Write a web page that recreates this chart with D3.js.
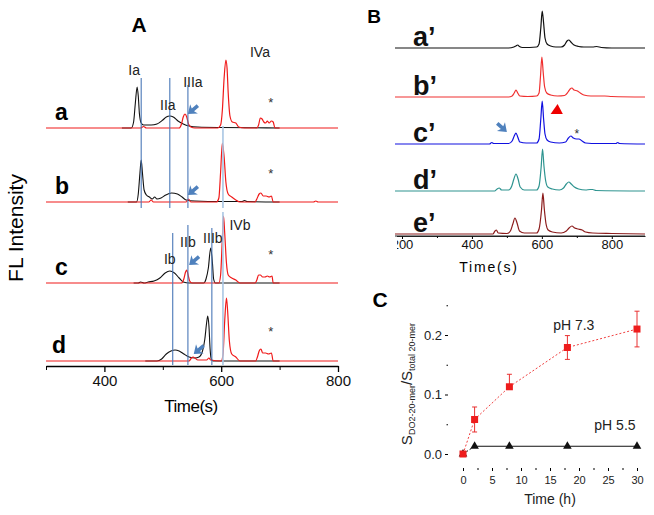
<!DOCTYPE html>
<html><head><meta charset="utf-8">
<script src="https://cdn.jsdelivr.net/npm/d3@7"></script>
<style>
body{margin:0;background:#fff}
svg{display:block}
text{font-family:"Liberation Sans",Arial,sans-serif}
</style>
</head><body>
<svg id="fig" width="654" height="515"></svg>
<script>
// ---------------- DATA ----------------
// Panel A: electropherograms, [time (s), intensity (a.u.)]
const aBlack = [[430,0],[446,0],[450,6],[453,25],[456,41],[458,32],[460,14],[463,5],[467,3],[480,3],[490,4],[500,8],[506,11],[512,12],[518,11],[526,7],[535,4],[545,2],[560,1],[600,0.5],[650,0.3],[700,0]];
const aRed = [[300,0],[462,0],[467,1.5],[472,0],[528,0],[532,4],[535,11],[538,14],[541,11],[544,4],[548,1],[555,0],[594,0],[599,3],[602,18],[605,50],[608,68],[610,60],[612,35],[615,12],[619,6],[625,5],[630,1],[640,0],[661,0],[664,3],[667,10],[670,9],[673,6],[676,5],[679,7],[682,5],[686,7],[689,6],[692,0],[800,0]];
const bBlack = [[440,0],[455,0],[458,8],[461,30],[463,42],[465,30],[468,12],[472,7],[477,5],[482,3],[486,5],[490,3],[497,4],[505,7],[515,9],[525,8],[533,5],[540,2],[555,1],[600,0.5],[636,0.5],[640,1.5],[644,0.5],[700,0]];
const bRed = [[300,0],[476,0],[480,2],[484,0],[540,0],[544,3],[548,0],[592,0],[596,4],[599,30],[602,59],[605,45],[608,20],[612,8],[618,5],[625,2],[632,0],[658,0],[661,3],[665,8],[668,9],[672,6],[677,6],[682,5],[686,6],[689,0],[758,0],[762,1],[766,0],[800,0]];
const cBlack = [[450,0],[458,0],[462,1],[468,0],[475,1],[485,2],[495,5],[504,10],[512,12],[520,10],[528,5],[535,1],[545,0],[570,0],[574,4],[578,15],[582,35],[585,20],[587,4],[590,0],[700,0]];
const cRed = [[300,0],[532,0],[536,4],[539,11],[541,13],[543,9],[546,2],[550,0],[596,0],[599,8],[602,45],[604,67],[606,50],[609,20],[612,8],[618,5],[625,3],[632,0],[658,0],[661,3],[664,8],[667,8],[671,6],[675,6],[679,7],[683,6],[687,7],[689,0],[800,0]];
const dBlack = [[470,0],[490,0],[498,2],[506,7],[514,10],[521,11],[528,10],[536,7],[545,4],[555,3],[562,4],[568,10],[572,22],[575,38],[577,45],[579,35],[581,12],[583,2],[586,0],[700,0]];
const dRed = [[300,0],[545,0],[549,3],[552,4],[555,3],[560,1],[575,1],[579,3],[582,1],[600,0],[603,6],[606,40],[609,63],[611,50],[614,20],[618,7],[625,4],[632,0],[659,0],[662,4],[665,10],[668,12],[671,8],[676,8],[681,7],[686,8],[689,0],[800,0]];
const rowLabelsA = ["a","b","c","d"];
const peakLabelsTop = ["Ia","IIa","IIIa","IVa"];
const peakTimesTop = [463,512,543,603];
const peakLabelsBottom = ["Ib","IIb","IIIb","IVb"];
const peakTimesBottom = [517,543,584,603];
const ticksA = [400,600,800];

// Panel B: electropherograms a'-e'
const aPrime = [[180,0],[505,0],[520,1],[526,2],[531,3],[536,1.5],[545,0.5],[585,1],[592,4],[597,20],[601,37],[605,25],[609,10],[615,4],[625,2],[640,1],[655,1],[665,3],[672,7],[677,8],[683,6],[692,3],[705,1.5],[720,1],[745,1],[757,1.5],[770,0.5],[800,0],[895,0]];
const bPrime = [[180,0],[505,0],[515,1],[521,4],[526,7],[531,4],[537,1],[560,0.5],[585,1],[592,4],[596,20],[600,40],[604,24],[608,10],[614,4],[625,2],[645,1],[665,1.5],[675,5],[681,8],[686,9],[692,7],[702,6],[710,4],[720,2],[740,1],[780,1],[800,0.5],[895,0]];
const cPrime = [[180,0],[450,0],[457,1.5],[462,0.5],[505,0.5],[515,3],[521,8],[526,11],[531,7],[537,2],[555,1],[585,1],[592,5],[597,25],[601,43],[605,25],[609,10],[615,4],[625,2],[650,1],[668,2],[676,6],[683,8],[690,6],[699,5],[706,5],[715,3],[725,1],[760,0.5],[812,0.5],[817,1.5],[822,0.5],[895,0]];
const dPrime = [[180,0],[465,0],[472,2],[478,3],[485,1],[505,1],[514,5],[520,12],[526,17],[532,12],[538,4],[550,1],[585,1],[592,5],[598,24],[602,42],[606,25],[611,10],[617,4],[630,2],[650,1],[662,3],[670,7],[677,9],[684,7],[693,4],[705,2],[725,1],[738,1.5],[745,1.5],[755,0.5],[895,0]];
const ePrime = [[180,0],[460,0],[466,3],[470,4],[475,1],[500,0.5],[510,3],[517,10],[523,16],[529,11],[536,3],[550,1],[585,1],[592,5],[599,24],[603,41],[607,25],[612,10],[618,4],[630,2],[655,1],[670,3],[678,6],[686,8],[694,6],[704,5],[715,4],[725,2],[745,1],[800,0.5],[895,0]];
const rowLabelsB = ["a\u2019","b\u2019","c\u2019","d\u2019","e\u2019"];
const ticksB = [200,400,600,800];

// Panel C: kinetics
const timeH = [0,2,8,18,30];
const ph73 = [0,0.058,0.113,0.179,0.21];
const ph73ErrUp = [0,0.021,0.021,0.02,0.03];
const ph73ErrDown = [0,0.021,0,0.02,0.03];
const ph55 = [0,0.013,0.013,0.013,0.013];
const ticksCx = [0,5,10,15,20,25,30];
const ticksCy = [0,0.1,0.2];

// ---------------- DRAWING ----------------
const svg = d3.select("#fig");
const RED = "#f01a1a", BLUE = "#4a78b8", LIGHT = "#a9c6e3";

function arrow(g, x, y, angle){
  g.append("path")
    .attr("d","M0,0 L-8,-6 L-6.5,-1.8 L-13,-1.8 L-13,1.8 L-6.5,1.8 L-8,6 Z")
    .attr("transform",`translate(${x},${y}) rotate(${angle})`)
    .attr("fill","#4f81bd");
}

// ===== Panel A =====
const xA = d3.scaleLinear().domain([300,800]).range([46,338]);
const yA = d3.scaleLinear().domain([0,100]).range([0,-100]);
const baseA = d3.scaleOrdinal().domain(rowLabelsA).range([128,202,283,361]);
const lineA = d3.line().x(d=>xA(d[0])).y(d=>yA(d[1])).curve(d3.curveMonotoneX);
const blackA = [aBlack,bBlack,cBlack,dBlack];
const redA = [aRed,bRed,cRed,dRed];
const arrowA = [[543,14],[543,7],[545,18],[553,7]];
const starA = [27,30,30,31];
const rowLabelX = [55,55,55,52];

rowLabelsA.forEach((r,i)=>{
  const g = svg.append("g").attr("transform",`translate(0,${baseA(r)})`);
  g.append("path").attr("d",lineA(blackA[i])).attr("fill","none").attr("stroke","#111").attr("stroke-width",1.1);
  g.append("path").attr("d",lineA(redA[i])).attr("fill","none").attr("stroke",RED).attr("stroke-width",1.2);
  g.append("text").attr("x",rowLabelX[i]).attr("y",-8).attr("font-size",23).attr("font-weight","bold").text(r);
  g.append("text").attr("x",xA(685)).attr("y",yA(starA[i])+6).attr("text-anchor","middle").attr("font-size",13).attr("fill","#333").text("*");
});

// marker lines
const topLines = svg.append("g");
const topY1 = [78,78,85,126];
peakTimesTop.forEach((t,i)=>{
  topLines.append("line").attr("x1",xA(t)).attr("x2",xA(t)).attr("y1",topY1[i]).attr("y2",208)
    .attr("stroke", i===3 ? LIGHT : BLUE).attr("stroke-width", i===3 ? 1.6 : 1.1);
});
const botY1 = [233,225,228,212];
peakTimesBottom.forEach((t,i)=>{
  topLines.append("line").attr("x1",xA(t)).attr("x2",xA(t)).attr("y1",botY1[i]).attr("y2",365)
    .attr("stroke", i===3 ? LIGHT : BLUE).attr("stroke-width", i===3 ? 1.6 : 1.1);
});
// peak labels
const topLabPos = [[-7,75],[-2,110],[5,87],[37,57]];
peakLabelsTop.forEach((l,i)=>{
  svg.append("text").attr("x",xA(peakTimesTop[i])+topLabPos[i][0]).attr("y",topLabPos[i][1])
    .attr("text-anchor","middle").attr("font-size",14).attr("fill","#222").text(l);
});
const botLabPos = [[-3,264],[0,247],[1,243],[17,230]];
peakLabelsBottom.forEach((l,i)=>{
  svg.append("text").attr("x",xA(peakTimesBottom[i])+botLabPos[i][0]).attr("y",botLabPos[i][1])
    .attr("text-anchor","middle").attr("font-size",14).attr("fill","#222").text(l);
});
// arrows
rowLabelsA.forEach((r,i)=>{
  arrow(svg, xA(arrowA[i][0]), baseA(r)+yA(arrowA[i][1]), 140);
});

// axis A
const axA = svg.append("g").attr("transform","translate(0,366)")
  .call(d3.axisBottom(xA).tickValues(ticksA).tickSize(6).tickSizeOuter(0).tickPadding(3));
axA.select(".domain").attr("stroke","#000").attr("stroke-width",1.5);
axA.selectAll(".tick line").attr("stroke","#000").attr("stroke-width",1.3);
axA.selectAll(".tick text").attr("font-size",15).attr("font-family","Liberation Sans, Arial, sans-serif").attr("fill","#111");
svg.append("g").attr("transform","translate(0,366)")
  .call(d3.axisBottom(xA).tickValues([300,500,700]).tickSize(4).tickFormat(""))
  .call(g=>g.select(".domain").remove());
svg.append("text").attr("x",191).attr("y",412).attr("text-anchor","middle").attr("font-size",17).attr("letter-spacing",-0.5).text("Time(s)");
svg.append("text").attr("transform","translate(23,228) rotate(-90)").attr("text-anchor","middle").attr("font-size",21).text("FL Intensity");
svg.append("text").attr("x",139).attr("y",32).attr("text-anchor","middle").attr("font-size",21).attr("font-weight","bold").text("A");

// ===== Panel B =====
const xB = d3.scaleLinear().domain([180,895]).range([395,645]);
const yB = d3.scaleLinear().domain([0,100]).range([0,-100]);
const baseB = d3.scaleOrdinal().domain(rowLabelsB).range([48,97,144,191,234]);
const colorB = d3.scaleOrdinal().domain(rowLabelsB).range(["#111111","#f03030","#1010e0","#2e9490","#8c1c1c"]);
const tracesB = [aPrime,bPrime,cPrime,dPrime,ePrime];
const lineB = d3.line().x(d=>xB(d[0])).y(d=>yB(d[1])).curve(d3.curveMonotoneX);
rowLabelsB.forEach((r,i)=>{
  const g = svg.append("g").attr("transform",`translate(0,${baseB(r)})`);
  g.append("path").attr("d",lineB(tracesB[i])).attr("fill","none").attr("stroke",colorB(r)).attr("stroke-width",1.2);
  g.append("text").attr("x",413).attr("y",-2).attr("font-family","Lato, 'Open Sans', sans-serif").attr("font-weight","bold").attr("font-size",27).attr("fill","#111").text(r);
});
// c' annotations
const cBase = baseB(rowLabelsB[2]);
arrow(svg, xB(500), cBase+yB(12), 42);
svg.append("path").attr("d",`M${xB(625)},${cBase+yB(30)} L${xB(660)},${cBase+yB(30)} L${xB(645)},${cBase+yB(40)} Z`).attr("fill","#ee0000");
svg.append("text").attr("x",xB(700)).attr("y",cBase+yB(2)-4).attr("text-anchor","middle").attr("font-size",12).attr("fill","#333").text("*");

// clip (in the axis group's local coordinates) so the "200" label is cut at the panel edge
svg.append("defs").append("clipPath").attr("id","clipB").append("rect").attr("x",397).attr("y",-10).attr("width",260).attr("height",40);
const axB = svg.append("g").attr("transform","translate(0,236)").attr("clip-path","url(#clipB)")
  .call(d3.axisBottom(xB).tickValues(ticksB).tickSize(3).tickSizeOuter(0).tickPadding(1));
axB.select(".domain").attr("stroke","#222").attr("stroke-width",1.2);
axB.selectAll(".tick text").attr("font-size",13).attr("font-family","Liberation Sans, Arial, sans-serif").attr("fill","#111");
svg.append("g").attr("transform","translate(0,236)")
  .call(d3.axisBottom(xB).tickValues([300,500,700]).tickSize(2).tickFormat(""))
  .call(g=>g.select(".domain").remove());
svg.append("line").attr("x1",395).attr("x2",645).attr("y1",236).attr("y2",236).attr("stroke","#222").attr("stroke-width",1.2);
svg.append("text").attr("x",489).attr("y",272).attr("text-anchor","middle").attr("font-size",14).attr("letter-spacing",1.8).text("Time(s)");
svg.append("text").attr("x",374).attr("y",23).attr("text-anchor","middle").attr("font-size",19).attr("font-weight","bold").text("B");

// ===== Panel C =====
const xC = d3.scaleLinear().domain([0,30]).range([463,637]);
const yC = d3.scaleLinear().domain([0,0.25]).range([454,305.25]);
const axCy = svg.append("g").attr("transform","translate(448,0)")
  .call(d3.axisLeft(yC).tickValues(ticksCy).tickFormat(d3.format(".1f")).tickSize(3).tickPadding(3));
axCy.select(".domain").remove();
axCy.selectAll(".tick text").attr("font-size",13).attr("font-family","Liberation Sans, Arial, sans-serif").attr("fill","#222");
svg.append("g").attr("transform","translate(448,0)")
  .call(d3.axisLeft(yC).tickValues([0.05,0.15,0.25]).tickSize(1.5).tickFormat(""))
  .call(g=>g.select(".domain").remove());
const axCx = svg.append("g").attr("transform","translate(0,468)")
  .call(d3.axisBottom(xC).tickValues(ticksCx).tickSize(3).tickPadding(5));
axCx.select(".domain").remove();
axCx.selectAll(".tick text").attr("font-size",11).attr("font-family","Liberation Sans, Arial, sans-serif").attr("fill","#222");
svg.append("g").attr("transform","translate(0,468)")
  .call(d3.axisBottom(xC).tickValues([2.5,7.5,12.5,17.5,22.5,27.5]).tickSize(2).tickFormat(""))
  .call(g=>g.select(".domain").remove());

// pH 5.5 line
const ptsC55 = timeH.map((t,i)=>[t,ph55[i]]);
const lineC = d3.line().x(d=>xC(d[0])).y(d=>yC(d[1]));
svg.append("path").attr("d",lineC(ptsC55.slice(0,2))).attr("fill","none").attr("stroke","#111").attr("stroke-width",1).attr("stroke-dasharray","2,2");
svg.append("path").attr("d",lineC(ptsC55.slice(1))).attr("fill","none").attr("stroke","#111").attr("stroke-width",1);
svg.selectAll(".tri").data(ptsC55).enter().append("path")
  .attr("d",d3.symbol(d3.symbolTriangle).size(32))
  .attr("transform",d=>`translate(${xC(d[0])},${yC(d[1])})`).attr("fill","#111");

// pH 7.3 line
const ptsC73 = timeH.map((t,i)=>[t,ph73[i]]);
svg.append("path").attr("d",lineC(ptsC73)).attr("fill","none").attr("stroke","#f04040").attr("stroke-width",1).attr("stroke-dasharray","2,2");
timeH.forEach((t,i)=>{
  const x = xC(t);
  if (ph73ErrUp[i] > 0 || ph73ErrDown[i] > 0) {
    svg.append("line").attr("x1",x).attr("x2",x).attr("y1",yC(ph73[i]+ph73ErrUp[i])).attr("y2",yC(ph73[i]-ph73ErrDown[i])).attr("stroke","#e83030").attr("stroke-width",1);
  }
  if (ph73ErrUp[i] > 0) svg.append("line").attr("x1",x-2.5).attr("x2",x+2.5).attr("y1",yC(ph73[i]+ph73ErrUp[i])).attr("y2",yC(ph73[i]+ph73ErrUp[i])).attr("stroke","#e83030");
  if (ph73ErrDown[i] > 0) svg.append("line").attr("x1",x-2.5).attr("x2",x+2.5).attr("y1",yC(ph73[i]-ph73ErrDown[i])).attr("y2",yC(ph73[i]-ph73ErrDown[i])).attr("stroke","#e83030");
});
svg.selectAll(".sq").data(ptsC73).enter().append("rect")
  .attr("x",d=>xC(d[0])-3.5).attr("y",d=>yC(d[1])-3.5).attr("width",7).attr("height",7).attr("fill","#ee1c1c");

svg.append("text").attr("x",xC(19.1)).attr("y",yC(0.208)).attr("text-anchor","middle").attr("font-size",14).attr("fill","#222").text("pH 7.3");
svg.append("text").attr("x",xC(26.2)).attr("y",yC(0.04)).attr("text-anchor","middle").attr("font-size",14).attr("fill","#222").text("pH 5.5");
svg.append("text").attr("x",550).attr("y",504).attr("text-anchor","middle").attr("font-size",14).attr("fill","#222").text("Time (h)");
const yt = svg.append("text").attr("transform","translate(412,384) rotate(-90)").attr("text-anchor","middle").attr("font-size",15).attr("fill","#222");
yt.append("tspan").text("S");
yt.append("tspan").attr("font-size",9).attr("dy",3).text("DO2-20-mer");
yt.append("tspan").attr("dy",-3).text("/S");
yt.append("tspan").attr("font-size",9).attr("dy",3).text("total 20-mer");
svg.append("text").attr("x",380).attr("y",307).attr("text-anchor","middle").attr("font-size",21).attr("font-weight","bold").text("C");
</script>
</body></html>
